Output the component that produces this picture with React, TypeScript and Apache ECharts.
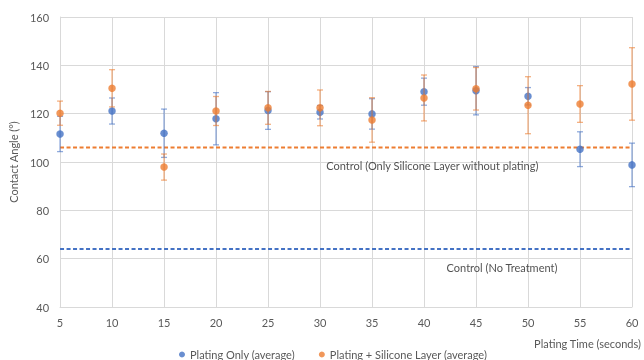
import React, { useEffect, useRef } from "react";
import * as echarts from "echarts";

const platingTimes = [5, 10, 15, 20, 25, 30, 35, 40, 45, 50, 55, 60];
const platingOnlyMean = [111.6, 121.1, 111.9, 117.9, 121.3, 120.6, 119.9, 129.1, 129.5, 127.2, 105.3, 98.8];
const platingOnlyErr = [7.3, 5.4, 10, 10.8, 7.8, 2.8, 6.3, 5.6, 10, 3.6, 7.2, 9];
const siliconeMean = [120.2, 130.5, 97.9, 121.1, 122.4, 122.4, 117.4, 126.5, 130.3, 123.5, 124, 132.3];
const siliconeErr = [5, 7.7, 5.4, 6, 6.8, 7.4, 9.2, 9.5, 8.8, 11.8, 7.6, 15];
const controlSilicone = 106;
const controlNoTreatment = 64;
const seriesNames = ["Plating Only (average)", "Plating + Silicone Layer (average)"];
const controlLabels = ["Control (Only Silicone Layer without plating)", "Control (No Treatment)"];
const controlLabelX = [40.8, 47.5];

const BLUE = "#4472C4";
const ORANGE = "#ED7D31";
const FONT = "Lato";

function errorSeries(name: string, means: number[], errs: number[], color: string, z: number) {
  const data = platingTimes.map((t, i) => [t, means[i] - errs[i], means[i] + errs[i]]);
  return {
    type: "custom",
    name: name + " err",
    z,
    clip: false,
    data,
    encode: { x: 0, y: [1, 2] },
    renderItem: (params: any, api: any) => {
      const x = api.value(0);
      const lo = api.coord([x, api.value(1)]);
      const hi = api.coord([x, api.value(2)]);
      const cw = 3;
      const style = { stroke: color, lineWidth: 1.3, opacity: 0.6 };
      return {
        type: "group",
        children: [
          { type: "line", shape: { x1: lo[0], y1: lo[1], x2: hi[0], y2: hi[1] }, style },
          { type: "line", shape: { x1: lo[0] - cw, y1: lo[1], x2: lo[0] + cw, y2: lo[1] }, style },
          { type: "line", shape: { x1: hi[0] - cw, y1: hi[1], x2: hi[0] + cw, y2: hi[1] }, style },
        ],
      };
    },
  };
}

export default function App() {
  const ref = useRef<HTMLDivElement>(null);
  useEffect(() => {
    if (!ref.current) return;
    const chart = echarts.init(ref.current, null, { renderer: "svg" });
    chart.setOption({
      animation: false,
      textStyle: { fontFamily: FONT },
      grid: { left: 54, right: 10, top: 17, bottom: 53 },
      legend: {
        data: seriesNames,
        left: 174,
        top: 344,
        icon: "circle",
        itemWidth: 6,
        itemHeight: 6,
        itemGap: 24,
        textStyle: { fontFamily: FONT, fontSize: 11, color: "#595959" },
      },
      xAxis: {
        type: "value",
        min: 5,
        max: 60,
        interval: 5,
        name: "Plating Time (seconds)",
        nameLocation: "end",
        nameGap: 9,
        nameTextStyle: { fontFamily: FONT, fontSize: 11, color: "#595959", align: "right", verticalAlign: "top", padding: [31, 0, 0, 0] },
        axisLine: { show: true, lineStyle: { color: "#d9d9d9" } },
        axisTick: { show: false },
        axisLabel: { fontFamily: FONT, fontSize: 11, color: "#595959", margin: 10 },
        splitLine: { show: true, lineStyle: { color: "#d9d9d9" } },
      },
      yAxis: {
        type: "value",
        min: 40,
        max: 160,
        interval: 20,
        name: "Contact Angle (°)",
        nameLocation: "middle",
        nameGap: 33,
        nameTextStyle: { fontFamily: FONT, fontSize: 11, color: "#595959" },
        axisLine: { show: true, lineStyle: { color: "#d9d9d9" } },
        axisTick: { show: false },
        axisLabel: { fontFamily: FONT, fontSize: 11, color: "#595959", margin: 11 },
        splitLine: { show: true, lineStyle: { color: "#d9d9d9" } },
      },
      series: [
        {
          type: "line",
          name: "controlSilicone",
          data: [[5, controlSilicone], [60, controlSilicone]],
          symbol: "none",
          lineStyle: { color: ORANGE, width: 1.8, type: [4, 2.5] },
          z: 1,
          silent: true,
        },
        {
          type: "line",
          name: "controlNone",
          data: [[5, controlNoTreatment], [60, controlNoTreatment]],
          symbol: "none",
          lineStyle: { color: BLUE, width: 1.8, type: [4, 2.5] },
          z: 1,
          silent: true,
        },
        {
          type: "scatter",
          name: "controlLabels",
          symbolSize: 0,
          silent: true,
          data: [
            { value: [controlLabelX[0], controlSilicone], label: { formatter: controlLabels[0] } },
            { value: [controlLabelX[1], controlNoTreatment], label: { formatter: controlLabels[1] } },
          ],
          label: { show: true, position: "inside", offset: [0, 18], fontFamily: FONT, fontSize: 11, color: "#262626" },
        },
        errorSeries(seriesNames[0], platingOnlyMean, platingOnlyErr, BLUE, 2),
        {
          type: "scatter",
          name: seriesNames[0],
          data: platingTimes.map((t, i) => [t, platingOnlyMean[i]]),
          symbol: "circle",
          symbolSize: 7.5,
          itemStyle: { color: BLUE },
          clip: false,
          z: 3,
        },
        errorSeries(seriesNames[1], siliconeMean, siliconeErr, ORANGE, 4),
        {
          type: "scatter",
          name: seriesNames[1],
          data: platingTimes.map((t, i) => [t, siliconeMean[i]]),
          symbol: "circle",
          symbolSize: 7.5,
          itemStyle: { color: ORANGE },
          clip: false,
          z: 5,
        },
      ],
    });
    return () => chart.dispose();
  }, []);
  return <div ref={ref} style={{ position: "fixed", left: 0, top: 0, width: 644, height: 360 }} />;
}
